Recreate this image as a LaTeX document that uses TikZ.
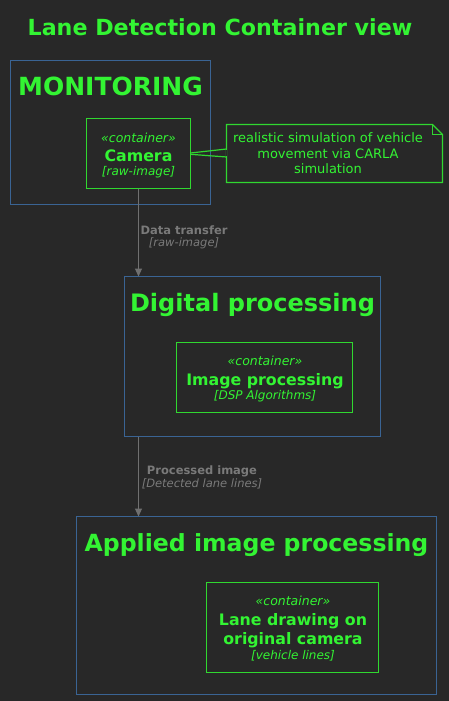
\documentclass[tikz,border=0pt]{standalone}
\usepackage{fontspec}
\setmainfont{DejaVu Sans}
\usetikzlibrary{arrows.meta,calc}
\definecolor{bg}{HTML}{282828}
\definecolor{txtgreen}{HTML}{33F433}
\definecolor{boxgreen}{HTML}{30D830}
\definecolor{frameblue}{HTML}{3A6494}
\definecolor{linegray}{HTML}{707070}
\definecolor{lblgray}{HTML}{7A7A7A}
\newcommand{\fsz}[1]{\fontsize{#1bp}{#1bp}\selectfont}
\newcommand{\outline}[2]{\draw[#1] (#2.south west) -- (#2.south east) -- (#2.north east) -- (#2.north west) -- cycle;}
\tikzset{
  area/.style={rectangle, inner sep=0pt, outer sep=0pt},
  frameline/.style={draw=frameblue, line width=1.2bp},
  boxline/.style={draw=boxgreen, line width=1.3bp},
  txt/.style={text=txtgreen, inner sep=0pt, anchor=base},
  ftitle/.style={txt, font=\bfseries\fsz{24}},
  stereo/.style={txt, font=\itshape\fsz{12.5}},
  cname/.style={txt, font=\bfseries\fsz{15.8}},
  tech/.style={txt, font=\itshape\fsz{12}},
  notetxt/.style={txt, font=\fsz{13}},
  elbl/.style={text=lblgray, inner sep=0pt, anchor=base, font=\bfseries\fsz{11.5}},
  etech/.style={text=lblgray, inner sep=0pt, anchor=base, font=\itshape\fsz{11.5}},
  conn/.style={draw=linegray, line width=1.2bp, -{Triangle[width=7bp,length=8bp]}},
}
\begin{document}
\begin{tikzpicture}[x=1bp,y=-1bp]
\fill[bg] (0,0) -- (449,0) -- (449,701) -- (0,701) -- cycle;
\useasboundingbox (0,0) rectangle (449,701);

% title
\node[txt, font=\bfseries\fsz{22.2}] (title) at (220,36) {Lane Detection Container view};

% MONITORING frame
\node[area, minimum width=200bp, minimum height=144bp] (mon) at (110.5,132.5) {};
\outline{frameline}{mon}
\node[ftitle, font=\bfseries\fsz{25}] (montitle) at (110.5,96) {MONITORING};

% Camera
\node[area, minimum width=104bp, minimum height=70bp] (cam) at (138.5,153.5) {};
\outline{boxline}{cam}
\node[stereo] (camst) at (138.5,142) {«container»};
\node[cname] (camname) at (138.5,161.3) {Camera};
\node[tech] (camtech) at (138.5,175.5) {[raw-image]};

% Note
\draw[boxline, fill=bg] (226.5,124.5) -- (432.5,124.5) -- (442.5,134.5) -- (442.5,182.5) -- (226.5,182.5) -- cycle;
\draw[boxline] (432.5,124.5) -- (432.5,134.5) -- (442.5,134.5);
\node[notetxt] (n1) at (328,142.7) {realistic simulation of vehicle};
\node[notetxt] (n2) at (328,158.3) {movement via CARLA};
\node[notetxt] (n3) at (328,173.3) {simulation};
\coordinate (na) at (226.5,149);
\coordinate (nb) at (226.5,157);
\draw[boxline, line width=1.2bp] ($(cam.east)+(0,-0.5)$) -- (na);
\draw[boxline, line width=1.2bp] ($(cam.east)+(0,0.8)$) -- (nb);
\draw[bg, line width=1.6bp] (226.5,150.2) -- (226.5,155.8);

% Digital processing frame
\node[area, minimum width=256bp, minimum height=160bp] (dig) at (252.5,356.5) {};
\outline{frameline}{dig}
\node[ftitle] (digtitle) at (252.5,311.7) {Digital processing};

% Image processing
\node[area, minimum width=176bp, minimum height=70bp] (imp) at (264.5,377.5) {};
\outline{boxline}{imp}
\node[stereo] (impst) at (265,365.7) {«container»};
\node[cname] (impname) at (265,385) {Image processing};
\node[tech] (imptech) at (265,399) {[DSP Algorithms]};

% Applied image processing frame
\node[area, minimum width=360bp, minimum height=178bp] (app) at (256.5,605.5) {};
\outline{frameline}{app}
\node[ftitle, font=\bfseries\fsz{23.6}] (apptitle) at (256.5,551.7) {Applied image processing};

% Lane drawing
\node[area, minimum width=172bp, minimum height=90bp] (lane) at (292.5,627.5) {};
\outline{boxline}{lane}
\node[stereo] (lanest) at (293,605.7) {«container»};
\node[cname] (lanen1) at (293,625) {Lane drawing on};
\node[cname] (lanen2) at (293,644) {original camera};
\node[tech] (lanetech) at (293,659.3) {[vehicle lines]};

% connectors
\coordinate (a1s) at (cam.south);
\draw[conn] (a1s) -- (a1s |- dig.north);
\node[elbl] (e1a) at (184,234) {Data transfer};
\node[etech] (e1b) at (184,246.7) {[raw-image]};

\coordinate (a2s) at (dig.south -| a1s);
\draw[conn] (a2s) -- (a2s |- app.north);
\node[elbl] (e2a) at (202,474) {Processed image};
\node[etech] (e2b) at (202,487) {[Detected lane lines]};
\end{tikzpicture}
\end{document}
